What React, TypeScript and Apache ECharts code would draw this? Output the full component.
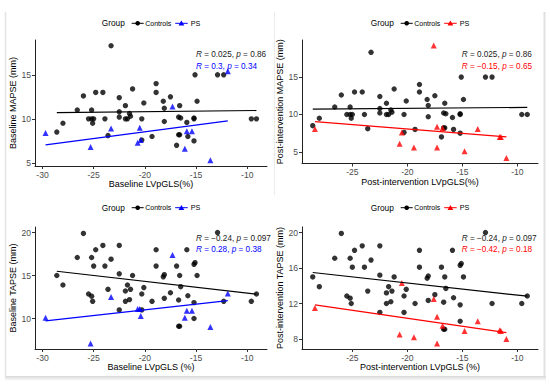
import React, { useEffect, useRef } from "react";
import * as echarts from "echarts";

// ---- Data ----
const controlsGLS = [-28.6, -28.0, -26.6, -26.0, -25.2, -25.5, -25.2, -25.0, -25.1, -24.8, -24.1, -23.9, -23.6, -23.3, -22.5, -22.5, -22.5, -21.9, -21.9, -21.7, -21.5, -21.4, -21.2, -20.3, -20.3, -20.1, -19.3, -18.9, -18.9, -18.2, -18.1, -18.1, -17.5, -16.9, -16.7, -16.6, -16.7, -16.5, -16.6, -15.9, -15.8, -15.2, -15.2, -15.2, -15.1, -14.9, -12.9, -12.3, -9.6, -9.1];
const controlsMAPSE = [8.5, 9.5, 11.0, 12.6, 11.0, 10.0, 10.0, 10.0, 9.5, 13.0, 13.0, 10.0, 8.1, 18.3, 12.4, 10.8, 10.2, 11.5, 10.0, 10.0, 10.6, 10.3, 13.4, 10.0, 7.6, 11.8, 8.0, 14.0, 13.0, 12.0, 11.2, 9.7, 12.5, 7.0, 8.2, 8.2, 10.2, 10.1, 11.5, 9.6, 8.0, 10.0, 10.1, 7.5, 15.0, 12.0, 15.0, 15.0, 10.0, 10.0];
const controlsTAPSE = [15.0, 13.9, 17.1, 19.9, 17.1, 12.85, 12.6, 16.1, 12.0, 18.0, 18.5, 16.1, 13.4, 16.9, 18.5, 11.0, 15.2, 13.2, 12.0, 13.9, 12.2, 13.4, 15.0, 12.85, 11.0, 13.6, 12.0, 18.0, 16.1, 14.85, 15.1, 12.35, 13.0, 16.1, 9.1, 9.1, 12.15, 13.7, 15.0, 18.0, 12.65, 11.85, 16.3, 10.0, 16.5, 15.0, 20.0, 12.0, 12.0, 12.85];

const psGLSBase = [-29.7, -25.3, -23.3, -20.7, -20.5, -20.4, -17.3, -16.1, -15.9, -15.4, -13.6, -11.9];
const psMAPSEBase = [8.4, 6.8, 8.9, 7.3, 9.0, 7.6, 11.4, 6.6, 8.6, 8.6, 5.3, 15.4];
const psTAPSEBase = [10.1, 7.1, 12.5, 11.1, 11.1, 10.3, 17.4, 10.1, 10.9, 10.9, 9.0, 12.9];

const psGLSPost = [-28.4, -20.7, -20.5, -19.4, -17.6, -17.3, -17.3, -16.8, -14.8, -13.6, -11.6, -11.5, -11.0];
const psMAPSEPost = [8.05, 6.1, 7.6, 5.6, 19.2, 8.35, 5.6, 8.2, 5.1, 8.05, 7.0, 7.0, 4.2];
const psTAPSEPost = [11.5, 8.5, 14.3, 8.2, 12.5, 10.5, 7.5, 9.5, 8.9, 10.0, 9.0, 8.9, 8.0];

const xTicksBase = [-30, -25, -20, -15, -10];
const xTicksPost = [-25, -20, -15, -10];
const mapseTicks = [5, 10, 15];
const tapseBaseTicks = [10, 15, 20];
const tapsePostTicks = [8, 12, 16, 20];

const statsLabels = [
  ["0.025", "0.86", "0.3", "0.34"],
  ["0.025", "0.86", "\u22120.15", "0.65"],
  ["\u22120.24", "0.097", "0.28", "0.38"],
  ["\u22120.24", "0.097", "\u22120.42", "0.18"],
];

const FONT = "'Liberation Sans', Arial, sans-serif";
const BLUE = "#0000ff";
const RED = "#ff0000";

function zip(xs: number[], ys: number[]) {
  return xs.map((x, i) => [x, ys[i]]);
}
function fit(xs: number[], ys: number[]) {
  const n = xs.length;
  const mx = xs.reduce((a, b) => a + b, 0) / n;
  const my = ys.reduce((a, b) => a + b, 0) / n;
  let sxy = 0, sxx = 0;
  for (let i = 0; i < n; i++) {
    sxy += (xs[i] - mx) * (ys[i] - my);
    sxx += (xs[i] - mx) * (xs[i] - mx);
  }
  const b = sxy / sxx;
  const a = my - b * mx;
  const x0 = Math.min(...xs), x1 = Math.max(...xs);
  return [[x0, a + b * x0], [x1, a + b * x1]];
}
function expand(vals: number[]) {
  const lo = Math.min(...vals), hi = Math.max(...vals);
  const r = hi - lo;
  return [lo - 0.05 * r, hi + 0.05 * r];
}

const panels = [
  { grid: { left: 35, top: 40, width: 232, height: 126 }, psX: psGLSBase, cY: controlsMAPSE, psY: psMAPSEBase, color: BLUE, xTicks: xTicksBase, yTicks: mapseTicks, xName: "Baseline LVpGLS(%)", yName: "Baseline MAPSE (mm)", legend: [101.7, 23.3], stats: [196, 54.5], yGap: 17 },
  { grid: { left: 302, top: 40, width: 236, height: 123.5 }, psX: psGLSPost, cY: controlsMAPSE, psY: psMAPSEPost, color: RED, xTicks: xTicksPost, yTicks: mapseTicks, xName: "Post-intervention LVpGLS(%)", yName: "Post-intervention MAPSE (mm)", legend: [370.7, 23.3], stats: [461.7, 54.5], yGap: 14 },
  { grid: { left: 35, top: 227, width: 232, height: 122 }, psX: psGLSBase, cY: controlsTAPSE, psY: psTAPSEBase, color: BLUE, xTicks: xTicksBase, yTicks: tapseBaseTicks, xName: "Baseline LVpGLS (%)", yName: "Baseline TAPSE (mm)", legend: [101.7, 207.7], stats: [196, 238], yGap: 17 },
  { grid: { left: 302, top: 227, width: 236, height: 122 }, psX: psGLSPost, cY: controlsTAPSE, psY: psTAPSEPost, color: RED, xTicks: xTicksPost, yTicks: tapsePostTicks, xName: "Post-intervention LVpGLS (%)", yName: "Post-intervention TAPSE (mm)", legend: [370.7, 207.7], stats: [461.7, 238], yGap: 14 },
];

function legendGraphic(gx: number, gy: number, psColor: string) {
  return [
    { type: "text", x: gx, y: gy, style: { text: "Group", fontSize: 8.3, fontFamily: FONT, fill: "#000", verticalAlign: "middle" } },
    { type: "line", shape: { x1: gx + 30, y1: gy, x2: gx + 42, y2: gy }, style: { stroke: "#000", lineWidth: 1 } },
    { type: "circle", shape: { cx: gx + 36, cy: gy, r: 2.3 }, style: { fill: "#000" } },
    { type: "text", x: gx + 43.5, y: gy, style: { text: "Controls", fontSize: 7, fontFamily: FONT, fill: "#000", verticalAlign: "middle" } },
    { type: "line", shape: { x1: gx + 73.5, y1: gy, x2: gx + 86, y2: gy }, style: { stroke: psColor, lineWidth: 1 } },
    { type: "polygon", shape: { points: [[gx + 79.7, gy - 2.8], [gx + 82.6, gy + 2.2], [gx + 76.8, gy + 2.2]] }, style: { fill: psColor } },
    { type: "text", x: gx + 89, y: gy, style: { text: "PS", fontSize: 7.2, fontFamily: FONT, fill: "#000", verticalAlign: "middle" } },
  ];
}

function statsGraphic(sx: number, sy: number, labels: string[], psColor: string) {
  const rich = (c: string) => ({
    i: { fontStyle: "italic", fontSize: 8.2, fontFamily: FONT, fill: c },
    n: { fontSize: 8.2, fontFamily: FONT, fill: c },
  });
  return [
    { type: "text", x: sx, y: sy, style: { text: `{i|R}{n| = ${labels[0]}, }{i|p}{n| = ${labels[1]}}`, rich: rich("#222"), verticalAlign: "middle" } },
    { type: "text", x: sx, y: sy + 11.5, style: { text: `{i|R}{n| = ${labels[2]}, }{i|p}{n| = ${labels[3]}}`, rich: rich(psColor), verticalAlign: "middle" } },
  ];
}

export default function App() {
  const ref = useRef<HTMLDivElement>(null);
  useEffect(() => {
    document.body.style.margin = "0";
    const chart = echarts.init(ref.current!, undefined, { renderer: "svg" });
    const grids: any[] = [], xAxes: any[] = [], yAxes: any[] = [], series: any[] = [], graphic: any[] = [];
    panels.forEach((p, i) => {
      grids.push(p.grid);
      const [xmin, xmax] = expand([...controlsGLS, ...p.psX]);
      const [ymin, ymax] = expand([...p.cY, ...p.psY]);
      const axisCommon = {
        axisLine: { onZero: false, lineStyle: { color: "#222", width: 1 } },
        splitLine: { show: false },
      };
      xAxes.push({
        type: "value", gridIndex: i, min: xmin, max: xmax, ...axisCommon,
        name: p.xName, nameLocation: "middle", nameGap: 13,
        nameTextStyle: { fontSize: 9, fontFamily: FONT, color: "#000" },
        axisTick: { show: true, length: 3, customValues: p.xTicks, lineStyle: { color: "#333" } },
        axisLabel: { customValues: p.xTicks, margin: 4, fontSize: 8.6, fontFamily: FONT, color: "#4d4d4d" },
      });
      yAxes.push({
        type: "value", gridIndex: i, min: ymin, max: ymax, ...axisCommon,
        name: p.yName, nameLocation: "middle", nameGap: p.yGap,
        nameTextStyle: { fontSize: 9, fontFamily: FONT, color: "#000" },
        axisTick: { show: true, length: 3, customValues: p.yTicks, lineStyle: { color: "#333" } },
        axisLabel: { customValues: p.yTicks, margin: 4, fontSize: 8.6, fontFamily: FONT, color: "#4d4d4d" },
      });
      series.push({ type: "scatter", name: "Controls", xAxisIndex: i, yAxisIndex: i, data: zip(controlsGLS, p.cY), symbol: "circle", symbolSize: 5.4, itemStyle: { color: "#000" } });
      series.push({ type: "scatter", name: "PS", xAxisIndex: i, yAxisIndex: i, data: zip(p.psX, p.psY), symbol: "triangle", symbolSize: 6, itemStyle: { color: p.color } });
      series.push({ type: "line", name: "Controls fit", xAxisIndex: i, yAxisIndex: i, data: fit(controlsGLS, p.cY), showSymbol: false, symbol: "none", lineStyle: { color: "#000", width: 1.2 }, z: 3 });
      series.push({ type: "line", name: "PS fit", xAxisIndex: i, yAxisIndex: i, data: fit(p.psX, p.psY), showSymbol: false, symbol: "none", lineStyle: { color: p.color, width: 1.2 }, z: 3 });
      graphic.push(...legendGraphic(p.legend[0], p.legend[1], p.color));
      graphic.push(...statsGraphic(p.stats[0], p.stats[1], statsLabels[i], p.color));
    });
    // faint frame / shadow of the original figure
    graphic.push(
      { type: "line", shape: { x1: 5.5, y1: 12, x2: 5.5, y2: 377 }, style: { stroke: "#e4e4e4", lineWidth: 1.5 } },
      { type: "line", shape: { x1: 274.5, y1: 12, x2: 274.5, y2: 195 }, style: { stroke: "#ececec", lineWidth: 1 } },
      { type: "line", shape: { x1: 544.5, y1: 12, x2: 544.5, y2: 378 }, style: { stroke: "#e0e0e0", lineWidth: 2 } },
      { type: "rect", shape: { x: 5, y: 376, width: 541, height: 5 }, style: { fill: new echarts.graphic.LinearGradient(0, 0, 0, 1, [{ offset: 0, color: "#d8d8d8" }, { offset: 1, color: "#ffffff" }]) } }
    );
    chart.setOption({
      animation: false,
      backgroundColor: "#fff",
      grid: grids,
      xAxis: xAxes,
      yAxis: yAxes,
      series,
      graphic,
    });
    return () => chart.dispose();
  }, []);
  return <div ref={ref} style={{ width: 550, height: 389 }} />;
}
